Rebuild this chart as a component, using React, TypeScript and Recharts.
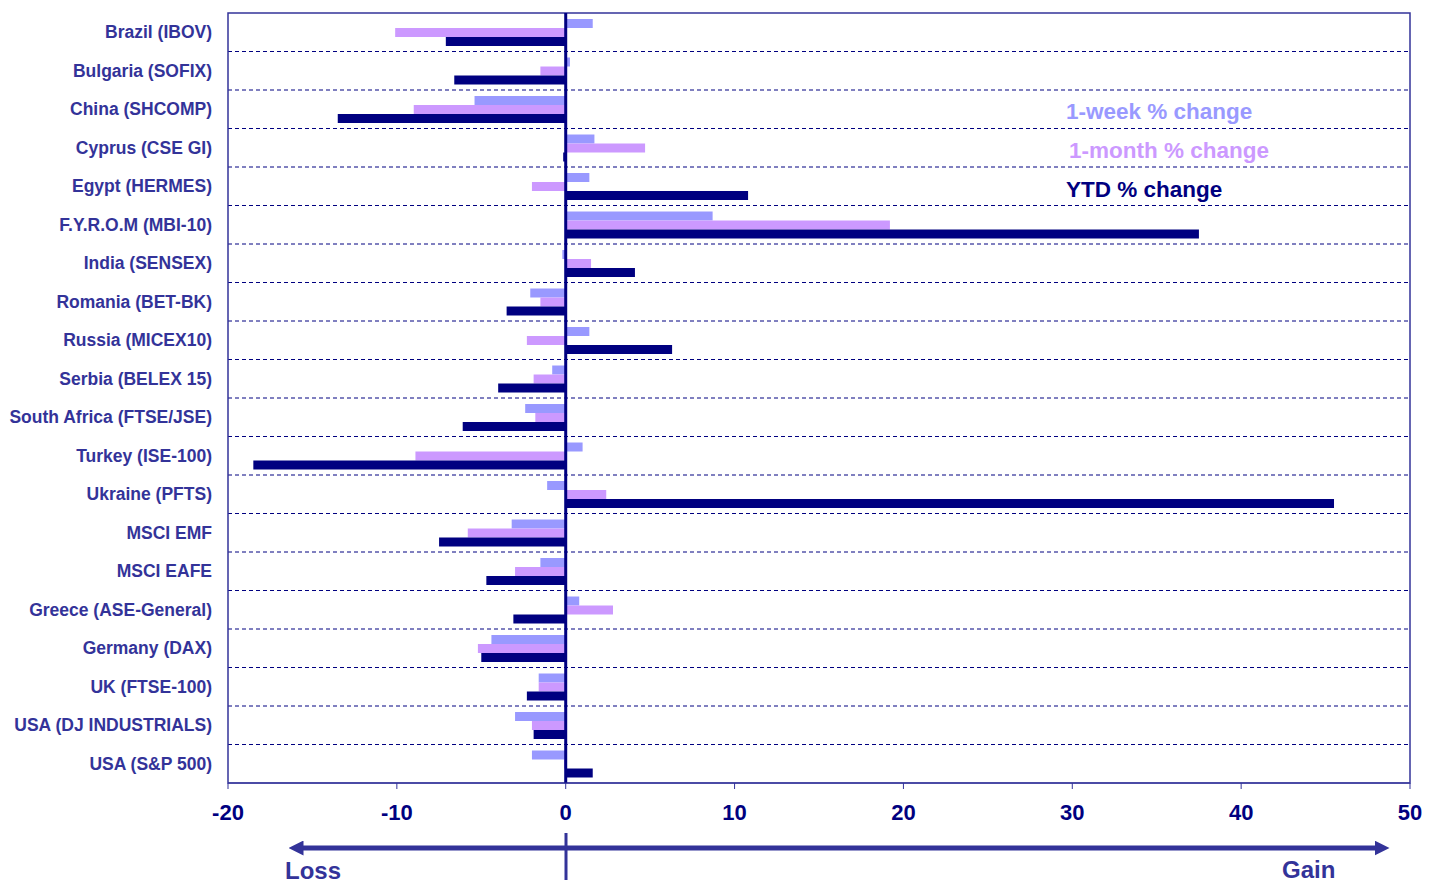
import React from "react";
import {
  BarChart,
  Bar,
  XAxis,
  YAxis,
  CartesianGrid,
  ReferenceLine,
  ReferenceArea,
} from "recharts";

const categories = [
  "Brazil (IBOV)",
  "Bulgaria (SOFIX)",
  "China (SHCOMP)",
  "Cyprus (CSE GI)",
  "Egypt (HERMES)",
  "F.Y.R.O.M (MBI-10)",
  "India (SENSEX)",
  "Romania (BET-BK)",
  "Russia (MICEX10)",
  "Serbia (BELEX 15)",
  "South Africa (FTSE/JSE)",
  "Turkey (ISE-100)",
  "Ukraine (PFTS)",
  "MSCI EMF",
  "MSCI EAFE",
  "Greece (ASE-General)",
  "Germany (DAX)",
  "UK (FTSE-100)",
  "USA (DJ INDUSTRIALS)",
  "USA (S&P 500)",
];

const weekChange = [1.6, 0.25, -5.4, 1.7, 1.4, 8.7, -0.2, -2.1, 1.4, -0.8, -2.4, 1.0, -1.1, -3.2, -1.5, 0.8, -4.4, -1.6, -3.0, -2.0];
const monthChange = [-10.1, -1.5, -9.0, 4.7, -2.0, 19.2, 1.5, -1.5, -2.3, -1.9, -1.8, -8.9, 2.4, -5.8, -3.0, 2.8, -5.2, -1.6, -2.0, -0.1];
const ytdChange = [-7.1, -6.6, -13.5, -0.15, 10.8, 37.5, 4.1, -3.5, 6.3, -4.0, -6.1, -18.5, 45.5, -7.5, -4.7, -3.1, -5.0, -2.3, -1.9, 1.6];

const xTicks = [-20, -10, 0, 10, 20, 30, 40, 50];

const series = [
  { key: "week", label: "1-week % change", color: "#9999FF" },
  { key: "month", label: "1-month % change", color: "#CC99FF" },
  { key: "ytd", label: "YTD % change", color: "#000080" },
];

const data = categories.map((name, i) => ({
  name,
  week: weekChange[i],
  month: monthChange[i],
  ytd: ytdChange[i],
}));

const FONT = "Arial, 'Liberation Sans', sans-serif";
const NAVY = "#000080";
const LABEL = "#333399";

export default function App() {
  return (
    <div style={{ position: "relative", width: 1425, height: 878, fontFamily: FONT }}>
      <style>{`body{overflow:hidden}`}</style>
      <BarChart
        width={1425}
        height={878}
        data={data}
        layout="vertical"
        margin={{ top: 5, right: 23, left: 0, bottom: 63 }}
        barSize={9}
        barGap={0}
      >
        <CartesianGrid
          vertical={false}
          stroke={NAVY}
          strokeDasharray="4 3"
          horizontalCoordinatesGenerator={(props: any) => {
            const top = props?.offset?.top ?? 5;
            const h = props?.offset?.height ?? 770;
            return categories.map((_, i) => top + (h * (i + 1)) / categories.length).slice(0, -1);
          }}
        />
        <XAxis
          type="number"
          domain={[-20, 50]}
          ticks={xTicks}
          height={40}
          axisLine={{ stroke: LABEL }}
          tickLine={{ stroke: LABEL }}
          tickSize={6}
          tickMargin={15}
          tick={{ fill: NAVY, fontSize: 22, fontWeight: "bold", fontFamily: FONT }}
        />
        <YAxis
          type="category"
          dataKey="name"
          width={220}
          interval={0}
          axisLine={false}
          tickLine={false}
          tickSize={8}
          tickMargin={8}
          tick={{ fill: LABEL, fontSize: 17.5, fontWeight: "bold", fontFamily: FONT }}
        />
        <ReferenceArea x1={-20} x2={50} fill="none" stroke={LABEL} strokeWidth={1.5} fillOpacity={0} />
        {series.map((s) => (
          <Bar key={s.key} dataKey={s.key} name={s.label} fill={s.color} isAnimationActive={false} />
        ))}
        <ReferenceLine x={0} stroke={NAVY} strokeWidth={3} />
      </BarChart>
      <svg
        width={1425}
        height={878}
        style={{ position: "absolute", left: 0, top: 0, pointerEvents: "none" }}
      >
        <defs>
          <marker id="ah" viewBox="0 0 10 10" refX="5" refY="5" markerWidth="3" markerHeight="3" orient="auto-start-reverse">
            <path d="M0,0 L10,5 L0,10 z" fill={LABEL} />
          </marker>
        </defs>
        {/* legend */}
        {series.map((s, i) => (
          <text
            key={s.key}
            x={s.key === "month" ? 1061 : 1058}
            y={103 + i * 39}
            dy="0.35em"
            fill={s.color}
            fontSize={22.5}
            fontWeight="bold"
            fontFamily={FONT}
          >
            {s.label}
          </text>
        ))}
        {/* loss / gain arrow */}
        <line x1={288} y1={840} x2={1374} y2={840} stroke={LABEL} strokeWidth={5} markerStart="url(#ah)" markerEnd="url(#ah)" />
        <line x1={558} y1={825} x2={558} y2={872} stroke={LABEL} strokeWidth={3} />
        <text x={277} y={871} fill={LABEL} fontSize={24} fontWeight="bold" fontFamily={FONT}>Loss</text>
        <text x={1274} y={870} fill={LABEL} fontSize={24} fontWeight="bold" fontFamily={FONT}>Gain</text>
      </svg>
    </div>
  );
}
